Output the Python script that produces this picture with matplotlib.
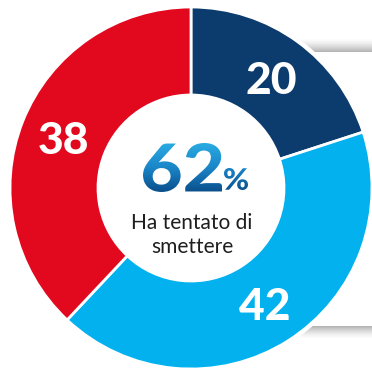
import numpy as np
import matplotlib.pyplot as plt
from matplotlib.textpath import TextPath
from matplotlib.font_manager import FontProperties
from matplotlib.patches import PathPatch, Circle
from matplotlib.path import Path
from matplotlib.transforms import Affine2D
from matplotlib.colors import LinearSegmentedColormap

# survey shares (percent), clockwise from 12 o'clock
shares = [20, 42, 38]
share_colors = ['#0c3b6e', '#02b1ee', '#e2091f']
share_labels = [str(v) for v in shares]
headline = '62'
caption = 'Ha tentato di\nsmettere'

W, H = 372, 370
fig = plt.figure(figsize=(W / 100, H / 100), dpi=100)
ax = fig.add_axes([0, 0, 1, 1])

cx, cy, R = 191, 182, 181


def shadow_band(y0, y1, dark_low):
    # thin grey strip fading out, used as the edge of the panel behind the ring
    a = np.linspace(0, 1, 60)
    if not dark_low:
        a = a[::-1]
    a = (1 - a) ** 1.5 * 0.55
    rgba = np.zeros((60, 1, 4))
    rgba[..., :3] = 0.45
    rgba[:, 0, 3] = a
    ax.imshow(rgba, extent=[285, W, y0, y1], origin='lower', aspect='auto',
              interpolation='bilinear', zorder=1)


shadow_band(H - 52, H - 38, dark_low=True)
shadow_band(H - 339, H - 326, dark_low=False)

# white rim so the ring sits clear of the panel shadow
ax.add_patch(Circle((cx, cy), R + 3, facecolor='white', edgecolor='none', zorder=2))

wedges, texts = ax.pie(
    shares, colors=share_colors, startangle=90, counterclock=False,
    radius=R, center=(cx, cy), labels=share_labels, labeldistance=0.757,
    wedgeprops=dict(width=88, edgecolor='white', linewidth=2),
    textprops=dict(color='white', fontsize=32, fontweight='black',
                   family='Lato', ha='center', va='center_baseline'))
for w in wedges:
    w.set_zorder(3)
for t in texts:
    t.set_zorder(4)


def fit_path(text, size, x0, y0, width, height):
    p = TextPath((0, 0), text, size=size, prop=fp)
    bb = p.get_extents()
    tr = Affine2D().translate(-bb.x0, -bb.y0).scale(width / bb.width, height / bb.height)
    return tr.translate(x0, y0).transform_path(p)


# big headline figure with a vertical blue gradient
fp = FontProperties(family='Lato', weight='black')
p_num = fit_path(headline, 66, 143, H - 192, 79, 49)
p_pct = fit_path('%', 30, 224, H - 190, 24, 22)
glyphs = Path.make_compound_path(p_num, p_pct)
clip = PathPatch(glyphs, facecolor='none', edgecolor='none', transform=ax.transData)
ax.add_patch(clip)
blues = LinearSegmentedColormap.from_list('blues', ['#0a4f8c', '#1a86c8', '#2aaae2'])
grad = np.linspace(0, 1, 100).reshape(-1, 1)
img = ax.imshow(grad, extent=[140, 252, H - 192, H - 143], origin='lower', aspect='auto',
                cmap=blues, zorder=5)
img.set_clip_path(clip)

ax.text(cx + 1, H - 235, caption, ha='center', va='center', fontsize=15,
        family='Lato', fontweight='normal', color='#1e1e1e', linespacing=1.3, zorder=5)

ax.set_xlim(0, W)
ax.set_ylim(0, H)
ax.axis('off')

fig.savefig('out.png', dpi=100)
